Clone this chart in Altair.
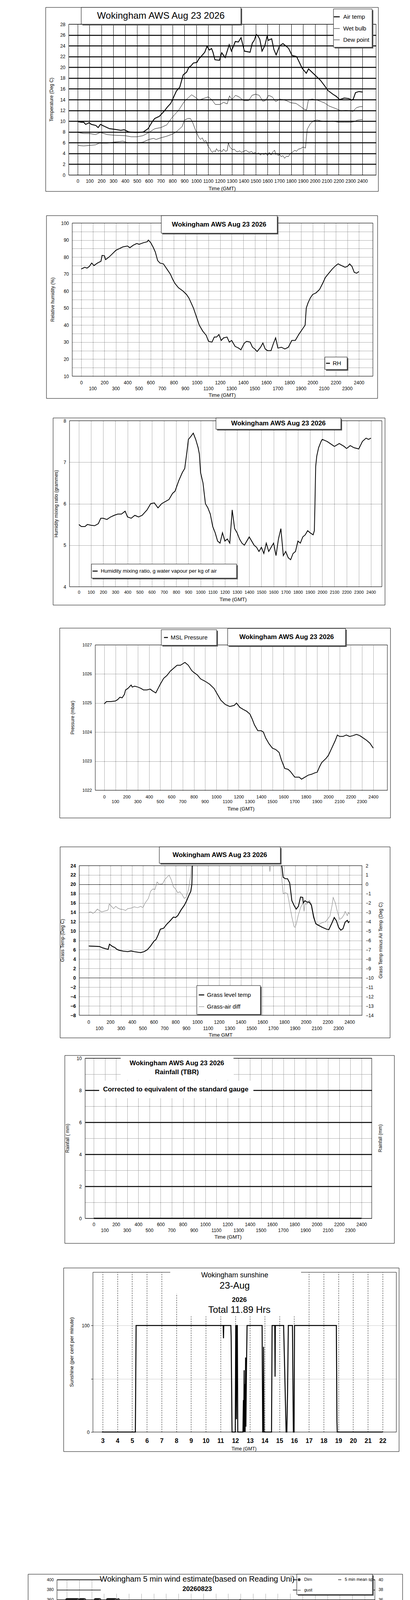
import altair as alt
import pandas as pd

FONT = "Liberation Sans, Arial, Helvetica, sans-serif"
ONE = pd.DataFrame({"d": [0]})
M = 8                 # page margin
TW, TH = 1034, 5069   # drawing area (page minus margins)

# ---------------- tick values ----------------
X_TICKS = list(range(0, 2401, 100))
X_ODD = list(range(100, 2400, 200))
SUN_HOURS = list(range(3, 23))

# ---------------- data (time on HHMM scale, value) ----------------
AIR_TEMP = [(0,9.9),(30,9.8),(50,9.8),(67,9.4),(96,9.7),(115,9.4),(153,9.2),(172,8.8),(191,9.4),(229,9.0),
            (268,8.6),(306,8.5),(363,8.3),(392,8.4),(430,8.0),(478,7.9),(516,7.9),(554,8.0),(593,8.6),(631,10.0),
            (650,10.5),(688,10.9),(727,11.8),(755,12.6),(784,13.3),(803,14.2),(832,15.6),(860,16.3),(889,18.6),(918,19.1),
            (937,20.0),(956,20.3),(975,20.8),(1004,20.9),(1023,21.6),(1052,22.3),(1071,22.8),(1090,23.9),(1110,23.2),(1128,23.5),
            (1140,22.8),(1157,21.4),(1195,21.3),(1214,22.7),(1243,21.8),(1277,24.2),(1296,23.0),(1329,24.8),(1354,24.7),(1377,25.5),
            (1405,23.0),(1453,22.8),(1472,24.5),(1488,25.0),(1505,26.1),(1520,25.8),(1535,25.2),(1554,23.0),(1577,24.0),(1597,25.8),
            (1606,25.0),(1635,25.3),(1654,23.3),(1673,22.3),(1702,24.0),(1730,24.4),(1759,23.9),(1778,23.5),(1807,22.2),(1845,22.0),
            (1893,19.8),(1927,18.9),(1946,19.7),(1989,18.8),(2046,17.6),(2084,16.5),(2109,15.7),(2151,15.0),(2180,14.6),(2208,14.0),
            (2247,14.3),(2285,14.2),(2310,13.9),(2323,14.1),(2342,15.3),(2371,15.5),(2400,15.4)]
WET_BULB = [(0,7.9),(50,7.7),(100,7.7),(150,7.5),(190,7.9),(250,7.5),(300,7.4),(400,7.3),(450,7.1),(500,7.1),
            (550,7.3),(600,7.9),(650,8.6),(700,8.8),(750,9.3),(800,10.8),(850,12.0),(900,13.7),(930,14.3),(960,14.9),
            (1000,14.3),(1020,13.9),(1060,14.2),(1100,14.5),(1130,14.0),(1160,13.1),(1200,13.1),(1230,13.5),(1260,13.2),(1280,14.7),
            (1300,14.0),(1330,14.8),(1360,14.5),(1400,13.8),(1440,13.8),(1470,14.8),(1500,15.0),(1530,14.8),(1560,13.7),(1580,13.8),
            (1610,14.8),(1640,14.5),(1670,13.6),(1700,14.1),(1730,14.0),(1760,13.8),(1800,13.4),(1840,13.3),(1880,12.7),(1910,12.2),
            (1930,12.1),(1945,14.0),(1980,14.1),(2020,13.9),(2080,13.4),(2120,12.8),(2180,12.3),(2220,11.9),(2260,12.0),(2300,11.9),
            (2320,11.8),(2350,12.5),(2380,12.7),(2400,12.7)]
DEW_POINT = [(0,5.5),(50,5.4),(100,5.5),(150,5.6),(180,5.9),(250,5.9),(300,6.1),(350,6.2),(380,6.3),(420,6.0),
             (500,6.0),(550,6.1),(600,6.6),(640,6.8),(660,6.6),(700,6.9),(750,7.2),(800,7.6),(830,8.0),(860,8.6),
             (880,9.0),(900,10.2),(930,10.5),(950,10.5),(970,9.7),(990,8.5),(1020,7.0),(1035,6.6),(1050,6.9),(1065,6.2),
             (1080,6.4),(1100,5.3),(1112,5.0),(1120,4.6),(1135,4.2),(1150,4.5),(1160,4.3),(1170,4.9),(1185,4.4),(1200,4.6),
             (1215,4.3),(1230,4.8),(1245,4.4),(1260,4.5),(1270,6.0),(1280,5.3),(1290,5.0),(1305,4.7),(1320,4.8),(1335,4.4),
             (1350,4.3),(1365,4.5),(1380,4.2),(1400,4.4),(1420,4.6),(1435,4.3),(1450,4.2),(1465,4.4),(1480,4.0),(1495,4.2),
             (1510,3.9),(1525,4.1),(1540,3.7),(1555,4.0),(1570,3.8),(1585,4.1),(1600,3.6),(1615,4.2),(1630,3.7),(1645,4.3),
             (1660,4.6),(1670,3.8),(1680,4.0),(1690,3.6),(1700,3.9),(1715,3.4),(1730,3.6),(1745,3.1),(1760,3.5),(1775,3.4),
             (1790,3.9),(1800,4.1),(1815,4.3),(1830,4.6),(1845,4.4),(1860,4.8),(1880,4.9),(1900,5.2),(1920,5.0),(1935,8.5),
             (1960,9.5),(1990,10.1),(2020,10.2),(2060,10.0),(2100,9.9),(2150,10.0),(2200,9.8),(2250,9.8),(2300,9.8),(2330,9.9),
             (2360,10.2),(2400,10.3)]

REL_HUM = [(0,73.0),(30,74.0),(50,73.5),(70,74.5),(90,76.5),(110,75.0),(140,76.5),(170,77.5),(180,81.0),(200,80.8),
           (210,78.5),(240,80.0),(270,82.0),(300,84.0),(330,85.0),(360,86.0),(400,86.5),(420,85.5),(450,87.0),(480,88.0),
           (500,87.5),(540,88.5),(570,89.0),(580,90.0),(600,88.5),(620,86.0),(640,83.0),(660,78.0),(680,76.5),(710,76.0),
           (740,73.0),(770,70.0),(790,67.0),(810,64.5),(840,62.0),(880,60.0),(910,58.0),(930,56.0),(950,53.0),(970,50.0),
           (1000,44.0),(1020,40.0),(1050,36.5),(1080,34.0),(1100,30.5),(1130,30.0),(1150,33.0),(1170,33.0),(1190,34.5),(1210,31.0),
           (1230,32.5),(1260,33.0),(1280,30.0),(1300,31.0),(1330,27.5),(1360,26.5),(1380,25.5),(1410,29.5),(1430,30.5),(1460,30.0),
           (1480,27.0),(1500,26.0),(1520,24.5),(1550,27.0),(1570,29.5),(1590,26.0),(1610,25.0),(1640,25.0),(1660,29.0),(1680,32.5),
           (1700,26.5),(1730,27.0),(1760,26.0),(1790,27.0),(1820,31.0),(1850,31.0),(1880,34.5),(1910,37.5),(1925,39.0),(1935,40.0),
           (1945,50.0),(1960,53.0),(1980,56.0),(2000,58.0),(2030,59.0),(2060,61.0),(2090,65.0),(2110,68.0),(2140,70.5),(2170,73.0),
           (2200,75.0),(2220,76.0),(2250,75.0),(2280,74.0),(2300,74.5),(2320,76.0),(2340,74.5),(2360,71.0),(2380,70.5),(2400,71.5)]

MIX_RATIO = [(0,5.5),(20,5.45),(50,5.45),(70,5.5),(100,5.48),(130,5.47),(160,5.52),(180,5.65),(200,5.65),(230,5.62),
             (260,5.68),(290,5.72),(320,5.75),(350,5.75),(380,5.82),(400,5.68),(430,5.65),(460,5.72),(490,5.68),(520,5.72),
             (560,5.85),(590,6.0),(620,6.02),(650,5.9),(680,6.0),(710,6.05),(740,6.1),(770,6.25),(790,6.3),(820,6.55),
             (850,6.75),(870,6.85),(890,7.3),(900,7.55),(920,7.62),(940,7.7),(960,7.55),(980,7.35),(990,7.2),(1000,6.75),
             (1020,6.5),(1040,6.0),(1060,5.9),(1080,5.75),(1100,5.45),(1120,5.3),(1140,5.1),(1160,5.05),(1180,5.3),(1200,5.1),
             (1220,5.15),(1240,5.05),(1260,5.85),(1280,5.4),(1300,5.3),(1320,5.15),(1340,5.05),(1360,5.0),(1380,5.1),(1400,5.2),
             (1420,5.1),(1440,5.0),(1460,4.95),(1480,4.85),(1500,4.95),(1520,4.8),(1540,5.05),(1560,4.85),(1580,4.95),(1600,5.05),
             (1620,4.75),(1640,5.15),(1660,5.4),(1680,4.75),(1700,4.85),(1720,4.7),(1740,4.65),(1760,4.8),(1780,4.85),(1800,5.1),
             (1820,5.05),(1840,5.2),(1860,5.25),(1880,5.35),(1900,5.3),(1925,5.25),(1935,5.35),(1940,6.0),(1946,6.9),(1955,7.15),
             (1970,7.35),(1990,7.5),(2000,7.55),(2040,7.5),(2080,7.42),(2100,7.38),(2140,7.45),(2180,7.38),(2200,7.33),(2230,7.4),
             (2260,7.35),(2300,7.32),(2330,7.5),(2360,7.58),(2380,7.55),(2400,7.58)]

PRESSURE = [(0,1024.97),(20,1025.05),(60,1025.05),(100,1025.07),(120,1025.12),(140,1025.2),(160,1025.18),(180,1025.3),(190,1025.45),(210,1025.5),
            (240,1025.62),(250,1025.55),(270,1025.58),(300,1025.55),(330,1025.5),(350,1025.45),(380,1025.45),(410,1025.48),(430,1025.42),(460,1025.35),
            (480,1025.5),(500,1025.65),(530,1025.85),(560,1025.95),(590,1026.1),(620,1026.2),(650,1026.3),(680,1026.3),(720,1026.4),(750,1026.3),
            (780,1026.12),(800,1026.05),(830,1025.97),(860,1025.83),(900,1025.75),(940,1025.65),(980,1025.5),(1010,1025.3),(1040,1025.1),(1080,1024.95),
            (1120,1024.88),(1160,1024.92),(1180,1025.0),(1210,1024.85),(1240,1024.78),(1270,1024.72),(1300,1024.62),(1320,1024.45),(1340,1024.25),(1370,1024.05),
            (1400,1024.05),(1420,1024.0),(1440,1023.8),(1470,1023.6),(1500,1023.45),(1530,1023.4),(1560,1023.3),(1580,1023.05),(1610,1022.75),(1640,1022.72),
            (1660,1022.65),(1680,1022.55),(1700,1022.45),(1740,1022.45),(1760,1022.38),(1790,1022.45),(1820,1022.52),(1850,1022.55),(1880,1022.6),(1900,1022.62),
            (1920,1022.8),(1940,1022.95),(1980,1023.1),(2000,1023.2),(2030,1023.45),(2060,1023.7),(2080,1023.9),(2100,1023.85),(2130,1023.85),(2160,1023.9),
            (2190,1023.85),(2220,1023.88),(2250,1023.92),(2280,1023.88),(2310,1023.8),(2340,1023.72),(2370,1023.62),(2400,1023.45)]

# grass series leave the top of the chart around midday, so they come in separate pieces
GRASS_TEMP_AM = [(0,6.8),(50,6.75),(100,6.7),(130,6.4),(160,6.2),(180,6.1),(192,7.2),(220,6.7),(240,6.5),(260,6.1),
                 (280,5.9),(320,5.7),(360,5.6),(390,5.75),(420,5.6),(460,5.45),(480,5.4),(510,5.6),(540,6.0),(570,6.8),
                 (600,7.8),(620,8.2),(640,9.2),(660,10.4),(690,10.6),(720,11.5),(750,12.2),(780,13.0),(800,12.9),(820,13.3),
                 (850,14.5),(880,15.5),(900,16.4),(920,17.5),(940,18.5),(950,20.0),(955,24.0)]
GRASS_TEMP_PM = [(1776,24.0),(1780,23.5),(1790,21.5),(1810,21.2),(1830,21.2),(1850,20.3),(1870,16.5),(1890,15.5),(1910,14.7),(1930,15.3),
                 (1950,17.3),(1970,17.2),(1975,16.0),(1990,16.5),(2010,16.2),(2030,16.2),(2050,15.5),(2070,13.0),(2090,11.6),(2110,11.3),
                 (2150,10.8),(2190,10.4),(2210,10.3),(2240,11.8),(2260,12.9),(2280,12.2),(2300,10.8),(2320,10.2),(2340,10.5),(2360,11.9),
                 (2380,12.3),(2390,11.8),(2400,12.1)]
GRASS_AIR_AM = [(0,-3.0),(20,-2.95),(40,-3.1),(60,-2.95),(80,-2.65),(100,-2.8),(120,-2.95),(150,-2.85),(170,-2.8),(180,-2.7),
                (190,-2.1),(210,-2.35),(230,-2.6),(250,-2.35),(270,-2.55),(290,-2.65),(320,-2.7),(340,-2.8),(360,-2.6),(390,-2.55),
                (420,-2.4),(450,-2.5),(480,-2.35),(500,-2.5),(520,-2.0),(550,-1.5),(570,-0.75),(590,-0.5),(610,-0.55),(630,0.25),
                (650,0.0),(680,0.05),(700,0.5),(720,0.75),(740,1.0),(760,0.5),(780,-0.25),(800,-0.5),(820,-0.9),(840,-0.8),
                (860,-1.1),(880,-1.5),(900,-1.35),(920,-0.5),(940,1.0),(946,2.0)]
GRASS_AIR_MID = [(1663,2.0),(1668,1.35),(1673,2.0)]
GRASS_AIR_PM = [(1767,2.0),(1770,1.5),(1780,0.25),(1790,-1.0),(1810,-0.9),(1830,-1.0),(1850,-2.25),(1870,-3.5),(1890,-4.5),(1900,-4.6),
                (1910,-4.25),(1930,-3.25),(1950,-2.5),(1960,-2.25),(1975,-2.0),(1982,-2.9),(1990,-2.1),(2010,-2.1),(2030,-1.7),(2050,-2.1),
                (2070,-3.25),(2090,-4.25),(2110,-4.4),(2130,-4.2),(2150,-4.1),(2180,-4.0),(2200,-3.7),(2220,-3.4),(2240,-2.25),(2250,-1.4),
                (2270,-2.0),(2290,-3.0),(2310,-3.75),(2330,-3.6),(2350,-3.25),(2360,-2.9),(2380,-3.35),(2390,-3.0),(2400,-3.2)]

RAINFALL = [(0,0.0),(2400,0.0)]

SUNSHINE = [(2.95,0),(5.22,0),(5.27,100),(11.18,100),(11.2,88),(11.22,100),(11.7,100),(11.72,90),(11.78,0),(12.0,0),
            (12.03,100),(12.06,100),(12.08,12),(12.1,65),(12.12,100),(12.14,100),(12.17,0),(12.52,0),(12.55,30),(12.57,0),
            (12.6,58),(12.62,0),(12.65,45),(12.67,0),(12.7,70),(12.72,5),(12.76,60),(12.8,100),(13.82,100),(13.86,0),
            (13.9,0),(13.92,80),(13.95,0),(14.46,0),(14.5,100),(14.68,100),(14.7,52),(14.72,100),(15.28,100),(15.35,60),
            (15.45,0),(15.5,0),(15.55,40),(15.6,100),(15.88,100),(15.94,0),(15.99,0),(16.02,100),(18.86,100),(18.9,10),
            (18.92,0),(22.0,0)]

WIND_DIR = [(0,360),(5,360),(10,360),(15,360),(20,360),(25,360),(30,360),(35,360),(40,360),(45,360),(50,360),(55,360),
            (60,360),(65,360),(70,360),(75,360),(80,360),(85,360),(90,360),(96,85),(108,360),(113,360),(118,360),(123,360),
            (128,360),(133,360),(138,360),(143,360),(151,63),(160,341),(168,334),(173,336),(177,337),(183,331),(192,318),
            (203,252),(207,253),(218,280),(222,280),(230,360),(235,360),(240,360),(245,360),(250,360),(255,360),(260,360),
            (265,360),(272,280),(276,280),(286,259),(292,244),(298,228),(307,217),(318,272),(323,273),(328,360),(333,360),
            (338,360),(343,360),(348,360),(353,360),(358,360),(363,360),(368,360),(373,360),(378,360),(383,360),(388,360),
            (393,360),(401,265),(408,265),(415,360),(426,251),(435,248),(443,244),(452,241),(458,230),(467,218),(477,238),
            (482,275),(492,299),(501,283),(507,271),(518,256),(524,251),(533,249),(543,248),(552,227),(560,228),(569,231),
            (578,232),(586,233),(595,240),(601,261),(607,277),(616,274),(624,261),(631,255),(639,269),(648,274),(658,275),
            (667,274),(676,270),(684,267),(691,261),(699,318),(708,335),(716,355),(725,4),(733,16),(740,39),(748,214),
            (759,203),(767,183),(778,324),(782,312),(787,311),(793,324),(803,177),(810,171),(821,165),(829,171),(842,226),
            (850,245),(859,251),(867,254),(874,261),(882,252),(891,215),(899,240),(908,251),(916,240),(925,250),(933,287),
            (942,287),(948,259),(957,244),(965,237),(974,247),(982,244),(991,243),(997,237),(1006,261),(1013,291),(1023,269),
            (1031,244),(1040,206),(1049,325),(1057,337),(1066,227),(1074,232),(1081,233),(1091,262),(1100,34),(1106,30),
            (1117,348),(1125,296),(1134,314),(1142,336),(1149,317),(1157,292),(1166,285),(1174,206),(1183,202),(1189,218),
            (1198,215),(1206,230),(1217,282),(1230,336),(1240,8),(1249,346),(1255,329),(1264,334),(1270,342),(1281,9),
            (1289,31),(1298,273),(1306,265),(1315,304),(1332,19),(1341,240),(1347,200),(1356,21),(1364,10),(1373,350),
            (1379,339),(1387,354),(1396,358),(1404,9),(1413,202),(1424,204),(1430,240),(1439,271),(1447,286),(1456,352),
            (1464,38),(1473,43),(1481,45),(1488,49),(1498,62),(1505,66),(1513,90),(1520,83),(1528,24),(1539,16),
            (1547,30),(1556,31),(1564,49),(1573,67),(1579,55),(1588,31),(1596,22),(1607,16),(1613,17),(1622,27),
            (1630,26),(1639,47),(1647,52),(1656,54),(1665,46),(1673,36),(1682,27),(1690,25),(1699,23),(1703,57),
            (1711,87),(1718,99),(1726,104),(1735,106),(1743,104),(1752,86),(1760,71),(1767,89),(1775,88),(1784,85),
            (1792,86),(1801,85),(1809,86),(1818,88),(1826,91),(1835,87),(1844,91),(1854,93),(1863,89),(1870,88),
            (1878,71),(1886,70),(1895,67),(1905,62),(1914,60),(1925,52),(1935,53),(1946,56),(1957,166),(1967,181),
            (1974,178),(1982,181),(1991,187),(1999,189),(2010,185),(2020,183),(2029,185),(2040,192),(2048,194),(2055,185),
            (2063,174),(2072,169),(2080,168),(2084,144),(2097,122),(2106,115),(2116,115),(2127,113),(2135,112),(2144,108),
            (2153,98),(2161,96),(2170,98),(2178,103),(2189,113),(2195,114),(2204,102),(2212,92),(2221,87),(2229,86),
            (2238,84),(2246,84),(2255,86),(2263,91),(2272,93),(2280,94),(2289,93),(2297,93),(2304,86),(2312,79),
            (2321,85),(2330,95),(2338,98),(2344,103),(2353,108),(2361,106),(2370,102),(2378,100),(2387,98),(2396,97)]

GUST = [(0,0.2),(60,0.2),(70,1.2),(80,0.3),(90,1.0),(100,0.4),(120,0.2),(140,0.3),(150,3.0),(160,5.5),
        (175,6.0),(182,1.8),(190,1.2),(197,2.4),(205,1.2),(215,0.3),(260,0.2),(265,1.9),(272,0.5),(280,2.0),
        (288,0.8),(296,1.8),(305,2.6),(312,0.6),(320,0.2),(400,0.2),(405,1.0),(412,2.3),(420,1.5),(428,2.2),
        (436,1.7),(444,2.0),(452,1.2),(460,2.1),(468,1.8),(476,1.0),(484,2.3),(492,1.4),(500,2.1),(508,1.2),
        (516,2.0),(524,1.5),(535,2.6),(545,2.0),(555,2.3),(565,1.6),(575,2.5),(585,3.0),(600,2.0),(612,2.5),
        (625,3.2),(640,3.8),(655,4.6),(668,4.9),(678,4.2),(688,3.6),(700,2.4),(708,0.8),(718,1.5),(726,2.3),
        (734,1.2),(742,2.0),(750,1.6),(760,2.8),(770,1.8),(780,3.1),(790,2.2),(800,2.8),(812,4.2),(822,5.2),
        (832,6.0),(842,5.4),(852,6.6),(862,6.0),(872,6.8),(882,5.8),(892,7.2),(902,6.2),(912,7.4),(922,7.0),
        (932,6.4),(942,7.3),(952,6.8),(962,7.6),(972,6.0),(982,7.0),(992,7.2),(1002,6.6),(1012,7.4),(1022,6.9),
        (1032,6.2),(1042,7.0),(1052,5.2),(1062,8.2),(1072,5.8),(1082,8.5),(1092,6.0),(1102,8.0),(1112,5.6),(1122,8.0),
        (1132,6.4),(1142,10.5),(1150,5.8),(1160,3.4),(1170,5.0),(1180,6.2),(1190,5.4),(1200,8.0),(1210,6.2),(1220,9.0),
        (1230,7.6),(1240,12.7),(1248,8.2),(1256,5.0),(1264,8.6),(1272,7.0),(1280,9.2),(1290,11.5),(1298,7.2),(1306,9.8),
        (1314,8.0),(1322,10.2),(1330,8.8),(1340,9.6),(1350,7.2),(1360,8.6),(1370,6.0),(1380,8.2),(1390,7.0),(1400,9.6),
        (1410,6.4),(1420,8.8),(1430,6.0),(1440,7.0),(1450,8.4),(1460,12.0),(1470,8.0),(1480,5.6),(1490,7.6),(1500,5.8),
        (1510,4.6),(1520,5.0),(1530,8.2),(1540,10.2),(1550,8.0),(1560,5.4),(1570,9.0),(1580,11.2),(1590,11.8),(1600,10.0),
        (1610,8.2),(1620,6.0),(1630,9.2),(1640,5.4),(1650,8.2),(1660,10.2),(1670,6.6),(1680,4.8),(1690,7.2),(1700,4.4),
        (1710,6.2),(1720,8.4),(1730,10.6),(1740,6.0),(1750,4.0),(1760,5.6),(1770,6.6),(1780,3.6),(1790,6.0),(1800,4.4),
        (1810,6.2),(1820,3.4),(1830,4.2),(1840,5.6),(1850,6.0),(1860,3.4),(1870,2.0),(1880,3.6),(1890,5.4),(1900,4.0),
        (1910,3.6),(1920,6.4),(1930,7.6),(1940,9.0),(1950,6.6),(1960,8.8),(1970,7.4),(1980,9.8),(1990,7.2),(2000,10.0),
        (2010,8.6),(2020,8.0),(2030,8.6),(2040,7.0),(2050,6.2),(2060,5.0),(2070,2.6),(2078,4.2),(2086,1.8),(2094,2.6),
        (2102,1.4),(2110,0.6),(2118,1.2),(2126,1.8),(2134,2.6),(2142,1.6),(2150,2.2),(2158,1.2),(2166,0.8),(2174,1.6),
        (2182,2.4),(2190,1.0),(2198,1.8),(2206,3.0),(2214,2.2),(2222,3.4),(2230,2.6),(2240,3.6),(2250,4.2),(2260,4.6),
        (2270,5.8),(2280,6.6),(2290,7.4),(2300,8.0),(2310,8.6),(2320,9.4),(2330,9.8),(2340,10.0),(2350,9.0),(2360,7.4),
        (2370,6.6),(2380,6.8),(2390,6.9)]

MEAN_SPEED = [(0,0.1),(140,0.1),(150,1.5),(160,2.9),(172,3.0),(180,2.0),(188,1.2),(196,2.0),(204,1.2),(212,0.8),
              (222,0.2),(290,0.2),(300,0.8),(310,0.3),(400,0.2),(410,0.8),(418,1.3),(426,1.0),(434,1.4),(442,0.9),
              (450,1.5),(458,1.0),(466,1.6),(474,0.9),(482,1.5),(490,1.2),(500,1.8),(510,0.8),(520,1.5),(530,1.0),
              (540,1.6),(550,1.2),(560,1.9),(570,1.6),(580,2.1),(590,1.7),(600,1.8),(610,1.5),(620,2.0),(630,2.6),
              (642,3.0),(655,3.2),(665,3.6),(675,3.4),(685,3.2),(695,2.2),(705,0.8),(715,0.4),(725,0.3),(735,0.6),
              (745,1.0),(755,1.3),(765,1.0),(775,1.4),(785,1.2),(795,1.6),(805,2.2),(815,2.8),(825,3.6),(835,3.8),
              (845,3.4),(855,3.8),(865,4.0),(875,3.7),(885,4.2),(895,3.9),(905,4.4),(915,4.0),(925,4.6),(935,4.2),
              (945,4.4),(955,4.2),(965,4.6),(975,4.2),(985,4.4),(995,4.0),(1005,4.5),(1015,3.4),(1025,2.8),(1035,3.6),
              (1045,3.0),(1055,4.0),(1065,3.4),(1075,4.2),(1085,5.0),(1095,4.4),(1105,3.6),(1115,5.2),(1125,4.4),(1135,5.0),
              (1145,3.6),(1155,3.2),(1165,2.2),(1175,3.0),(1185,3.6),(1195,3.0),(1205,5.0),(1215,4.4),(1225,5.8),(1235,6.8),
              (1245,5.6),(1255,4.4),(1265,3.0),(1275,4.0),(1285,6.2),(1295,6.4),(1305,5.0),(1315,3.6),(1325,5.2),(1335,4.4),
              (1345,3.8),(1355,4.6),(1365,3.4),(1375,5.0),(1385,3.6),(1395,4.8),(1405,4.0),(1415,3.4),(1425,3.0),(1435,4.0),
              (1445,5.6),(1455,6.4),(1465,5.0),(1475,4.4),(1485,6.0),(1495,3.4),(1505,2.0),(1515,3.6),(1525,5.2),(1535,4.6),
              (1545,3.0),(1555,2.4),(1565,5.0),(1575,6.2),(1585,4.4),(1595,3.4),(1605,5.0),(1615,3.6),(1625,4.0),(1635,5.6),
              (1645,7.0),(1655,4.6),(1665,3.0),(1675,4.6),(1685,3.0),(1695,4.0),(1705,5.2),(1715,3.6),(1725,2.4),(1735,3.6),
              (1745,4.2),(1755,3.0),(1765,2.4),(1775,3.2),(1785,2.0),(1795,2.6),(1805,4.0),(1815,4.6),(1825,3.4),(1835,2.4),
              (1845,2.0),(1855,2.6),(1865,3.6),(1875,2.0),(1885,1.6),(1895,2.0),(1905,1.6),(1915,2.6),(1925,3.6),(1935,4.6),
              (1945,4.0),(1955,4.8),(1965,4.8),(1975,5.0),(1985,4.9),(1995,5.0),(2005,5.0),(2015,5.2),(2025,4.6),(2035,5.2),
              (2045,4.6),(2055,3.6),(2065,2.0),(2075,1.6),(2085,2.4),(2095,1.4),(2105,0.5),(2115,1.0),(2125,1.6),(2135,2.0),
              (2145,1.4),(2155,0.8),(2165,1.0),(2175,1.8),(2185,1.0),(2195,1.2),(2205,1.0),(2215,2.0),(2225,2.2),(2235,2.4),
              (2245,2.5),(2255,2.4),(2265,2.6),(2275,3.0),(2285,3.2),(2295,4.0),(2305,5.0),(2315,5.5),(2325,5.3),(2335,5.0),
              (2345,4.8),(2355,4.6),(2365,4.4)]

TITLE = "Wokingham AWS Aug 23 2026"
DOT = [1, 2]
EVEN_ONLY = "datum.value % 200 == 0 ? datum.label : ''"

LAYERS = []


# ---------------- primitive helpers (chart pixel coordinates) ----------------
def _rect(x1, y1, x2, y2, fill=None, stroke="black", sw=1):
    kw = {}
    if fill is None:
        kw["fill"] = "white"
        kw["fillOpacity"] = 0
    else:
        kw["fill"] = fill
    if stroke:
        kw["stroke"] = stroke
        kw["strokeWidth"] = sw
    return alt.Chart(ONE).mark_rect(**kw).encode(
        x=alt.value(x1), x2=alt.value(x2), y=alt.value(y1), y2=alt.value(y2))


class Panel:
    """A plot area placed on the page; decorations use coordinates relative to its top-left."""

    def __init__(self, left, top, right, bottom):
        self.ox, self.oy = left - M, top - M
        self.W, self.H = right - left, bottom - top

    def xs(self, lo, hi):
        return alt.Scale(domain=[lo, hi], range=[self.ox, self.ox + self.W], nice=False, zero=False)

    def ys(self, lo, hi):
        return alt.Scale(domain=[lo, hi], range=[self.oy + self.H, self.oy], nice=False, zero=False)

    def boff(self):
        return -(TH - (self.oy + self.H))

    def loff(self):
        return -self.ox

    def roff(self):
        return -(TW - (self.ox + self.W))

    def rect(self, x1, y1, x2, y2, fill=None, stroke="black", sw=1):
        LAYERS.append(_rect(self.ox + x1, self.oy + y1, self.ox + x2, self.oy + y2, fill, stroke, sw))

    def sbox(self, x1, y1, x2, y2):
        self.rect(x1 + 3, y1 + 3, x2 + 3, y2 + 3, fill="#555555", stroke=None)
        self.rect(x1, y1, x2, y2, fill="white")

    def seg(self, x1, x2, y, color="black", width=1):
        LAYERS.append(alt.Chart(ONE).mark_rule(color=color, strokeWidth=width).encode(
            x=alt.value(self.ox + x1), x2=alt.value(self.ox + x2), y=alt.value(self.oy + y)))

    def text(self, x, y, s, size=12, weight="normal", align="center", angle=0):
        LAYERS.append(alt.Chart(ONE).mark_text(text=s, fontSize=size, fontWeight=weight, align=align,
                                               baseline="middle", angle=angle, color="black", font=FONT).encode(
            x=alt.value(self.ox + x), y=alt.value(self.oy + y)))

    def dot(self, x, y):
        LAYERS.append(alt.Chart(ONE).mark_circle(size=42, color="#444444", stroke="black", strokeWidth=0.8,
                                                 opacity=1).encode(x=alt.value(self.ox + x), y=alt.value(self.oy + y)))

    def line(self, pairs, xs, ys, xa=None, ya=None, color="black", width=1.0):
        df = pd.DataFrame(pairs, columns=["t", "v"])
        LAYERS.append(alt.Chart(df).mark_line(color=color, strokeWidth=width).encode(
            x=alt.X("t:Q", scale=xs, axis=xa, title=None),
            y=alt.Y("v:Q", scale=ys, axis=ya, title=None)))

    def xlabels(self, xs, values, size, pad, expr=None, bold=False, odd_y=None, fmt="d"):
        kw = dict(orient="bottom", offset=self.boff(), values=values, grid=False, labelFontSize=size,
                  labelPadding=pad, title=None, format=fmt, labelFontWeight="bold" if bold else "normal")
        if expr:
            kw["labelExpr"] = expr
        ax = alt.Axis(**kw)
        if odd_y is not None:
            df = pd.DataFrame({"t": X_ODD, "lab": [str(v) for v in X_ODD]})
            LAYERS.append(alt.Chart(df).mark_text(fontSize=size, font=FONT, baseline="middle", color="black").encode(
                x=alt.X("t:Q", scale=xs, axis=ax, title=None), y=alt.value(self.oy + odd_y), text="lab:N"))
        else:
            df = pd.DataFrame({"t": values})
            LAYERS.append(alt.Chart(df).mark_point(opacity=0, size=1).encode(
                x=alt.X("t:Q", scale=xs, axis=ax, title=None), y=alt.value(self.oy)))


def grid_x(values, dash=None, width=1, color="black"):
    kw = dict(orient="top", values=values, grid=True, labels=False, ticks=False, domain=False, title=None,
              gridColor=color, gridWidth=width)
    if dash:
        kw["gridDash"] = dash
    return alt.Axis(**kw)


def yaxis(p, values, size=12, pad=9, grid=True, orient="left", **kw):
    off = p.loff() if orient == "left" else p.roff()
    args = dict(orient=orient, offset=off, values=values, grid=grid, labelFontSize=size, labelPadding=pad,
                title=None, gridColor="black")
    args.update(kw)
    return alt.Axis(**args)


# ---------------- panel 1: temperatures ----------------
p = Panel(176, 62, 963, 448)
xs, ys = p.xs(-76, 2515), p.ys(0, 28)
ya = yaxis(p, list(range(0, 29, 2)),
           gridWidth={"condition": {"test": "datum.value > 0 && datum.value < 28", "value": 2.5}, "value": 1})
p.rect(-59, -43, 793, 428)
p.rect(0, 0, p.W, p.H)
p.line(DEW_POINT, xs, ys)
p.line(WET_BULB, xs, ys)
p.line(AIR_TEMP, xs, ys, grid_x(X_TICKS), ya, width=2.2)
p.xlabels(xs, X_TICKS, 12, 10)
p.sbox(32, -43, 441, 0)
p.text(236, -21, TITLE, 24)
p.sbox(678, -39, 777, 59)
p.seg(679, 694, -19, width=2.5)
p.seg(679, 694, 11)
p.seg(679, 694, 40)
p.text(703, -19, "Air temp", 15, align="left")
p.text(703, 11, "Wet bulb", 15, align="left")
p.text(703, 40, "Dew point", 15, align="left")
p.text(-44, p.H / 2, "Temperature (Deg C)", 12, angle=270)
p.text(393, 421, "Time (GMT)", 13)

# ---------------- panel 2: relative humidity ----------------
p = Panel(185, 571, 955, 963)
xs, ys = p.xs(-78, 2521), p.ys(10, 100)
ya = yaxis(p, list(range(10, 101, 5)), gridDash=DOT, labelExpr="datum.value % 10 == 0 ? datum.label : ''")
p.rect(-66, -19, 782, 449)
p.rect(0, 0, p.W, p.H)
p.line(REL_HUM, xs, ys, grid_x(X_TICKS, DOT), ya, width=2)
p.xlabels(xs, X_TICKS, 12, 11, EVEN_ONLY, odd_y=p.H + 32)
p.sbox(228, -19, 525, 26)
p.text(376, 4, TITLE, 17, "bold")
p.sbox(647, 343, 704, 375)
p.seg(650, 660, 359, width=2.5)
p.text(667, 359, "RH", 15, align="left")
p.text(-50, p.H / 2, "Relative humidity (%)", 12, angle=270)
p.text(384, 441, "Time (GMT)", 13)

# ---------------- panel 3: mixing ratio ----------------
p = Panel(178, 1077, 978, 1502)
xs, ys = p.xs(-77, 2490), p.ys(4, 8)
ya = yaxis(p, [4, 5, 6, 7, 8], gridDash=DOT)
p.rect(-42, -7, 808, 472)
p.rect(0, 0, p.W, p.H)
p.line(MIX_RATIO, xs, ys, grid_x(X_TICKS, DOT), ya, width=2)
p.xlabels(xs, X_TICKS, 11, 8)
p.sbox(375, -7, 695, 22)
p.text(535, 7, TITLE, 17, "bold")
p.sbox(56, 367, 428, 403)
p.seg(59, 72, 385, width=2.5)
p.text(80, 385, "Humidity mixing ratio, g water vapour per kg of air", 13.5, align="left")
p.text(-34, p.H / 2, "Humidity mixing ratio (grammes)", 12, angle=270)
p.text(419, 458, "Time (GMT)", 13)

# ---------------- panel 4: pressure ----------------
p = Panel(244, 1651, 992, 2023)
xs, ys = p.xs(-80, 2526), p.ys(1022, 1027)
ya = yaxis(p, [1022, 1023, 1024, 1025, 1026, 1027], size=11, gridDash=DOT, format="d")
p.rect(-91, -43, 756, 443)
p.rect(0, 0, p.W, p.H)
p.line(PRESSURE, xs, ys, grid_x(X_TICKS, DOT), ya, width=2)
p.xlabels(xs, X_TICKS, 11.5, 11, EVEN_ONLY, odd_y=p.H + 30)
p.sbox(169, -39, 311, 1)
p.seg(176, 186, -19, width=2.5)
p.text(193, -19, "MSL Pressure", 15, align="left")
p.sbox(339, -42, 641, 2)
p.text(490, -20, TITLE, 17, "bold")
p.text(-58, p.H / 2, "Pressure (mbar)", 12, angle=270)
p.text(373, p.H + 48, "Time (GMT)", 13)

# ---------------- panel 5: grass temperature ----------------
p = Panel(203, 2216, 927, 2599)
xs, yl, yr = p.xs(-86, 2515), p.ys(-8, 24), p.ys(-14, 2)
ya_l = yaxis(p, list(range(-8, 25, 2)), size=12.5, labelFontWeight="bold",
             gridDash={"condition": {"test": "datum.value == 0 || datum.value == 20", "value": []}, "value": DOT})
ya_r = yaxis(p, list(range(-14, 3, 1)), grid=False, orient="right")
p.rect(-49, -48, 796, 441)
p.rect(0, 0, p.W, p.H)
p.line(GRASS_AIR_AM, xs, yr, None, ya_r, color="#8c8c8c", width=1.2)
p.line(GRASS_AIR_MID, xs, yr, color="#8c8c8c", width=1.2)
p.line(GRASS_AIR_PM, xs, yr, color="#8c8c8c", width=1.2)
p.line(GRASS_TEMP_AM, xs, yl, grid_x(X_TICKS, DOT), ya_l, width=2.2)
p.line(GRASS_TEMP_PM, xs, yl, width=2.2)
p.xlabels(xs, X_TICKS, 12, 12, EVEN_ONLY, odd_y=p.H + 34)
p.sbox(205, -48, 515, -6)
p.text(360, -27, TITLE, 17, "bold")
p.sbox(301, 307, 464, 381)
p.seg(306, 320, 331, width=2.5)
p.text(327, 331, "Grass level temp", 15, align="left")
p.seg(306, 320, 361, color="#8c8c8c", width=1.2)
p.text(327, 361, "Grass-air diff", 15, align="left")
p.text(-43, p.H / 2, "Grass Temp (Deg C)", 12, angle=270)
p.text(772, p.H / 2, "Grass Temp minus Air Temp (Deg C)", 12, angle=270)
p.text(362, p.H + 51, "Time GMT", 13)

# ---------------- panel 6: rainfall ----------------
p = Panel(218, 2709, 952, 3119)
xs, ys = p.xs(-77, 2492), p.ys(0, 10)
ya = yaxis(p, list(range(0, 11)),
           gridDash={"condition": {"test": "datum.value % 2 == 0", "value": []}, "value": DOT},
           gridWidth={"condition": {"test": "datum.value % 2 == 0 && datum.value > 0 && datum.value < 10", "value": 2.5}, "value": 1},
           labelExpr="datum.value % 2 == 0 ? datum.label : ''")
p.rect(-52, -7, 792, 474)
p.rect(0, 0, p.W, p.H)
p.line(RAINFALL, xs, ys, grid_x(X_TICKS, DOT), ya, width=3)
p.xlabels(xs, X_TICKS, 12, 10, EVEN_ONLY, odd_y=p.H + 31)
p.rect(91, -1, 380, 56, fill="white", stroke=None)
p.rect(36, 58, 431, 103, fill="white", stroke=None)
p.text(235, 13, TITLE, 17, "bold")
p.text(235, 36, "Rainfall (TBR)", 17, "bold")
p.text(232, 80, "Corrected to equivalent of the standard gauge", 17, "bold")
p.text(-45, p.H / 2, "Rainfall ( mm)", 12, angle=270)
p.text(756, p.H / 2, "Rainfall (mm)", 12, angle=270)
p.text(366, p.H + 48, "Time (GMT)", 13)

# ---------------- panel 7: sunshine ----------------
p = Panel(238, 3257, 1015, 3666)
xs, ys = p.xs(2.34, 22.93), p.ys(0, 150)
ya = yaxis(p, [0, 50, 100], pad=4, gridColor="#999999", gridDash=[1, 1],
           labelExpr="datum.value == 50 ? '' : datum.label", ticks=True, tickSize=5, tickColor="black")
p.rect(-75, -11, 784, 459)
p.rect(0, 0, p.W, p.H)
p.line(SUNSHINE, xs, ys, grid_x(SUN_HOURS, [3, 3]), ya, width=2.5)
p.xlabels(xs, SUN_HOURS, 16, 14, bold=True)
p.rect(198, -1, 533, 55, fill="white", stroke=None)
p.rect(217, 55, 519, 113, fill="white", stroke=None)
p.text(363, 8, "Wokingham sunshine", 18)
p.text(363, 35, "23-Aug", 24)
p.text(375, 71, "2026", 17, "bold")
p.text(375, 97, "Total 11.89 Hrs", 24)
p.text(-54, p.H / 2, "Sunshine (per cent per minute)", 13, angle=270)
p.text(387, p.H + 43, "Time (GMT)", 12)

# ---------------- panel 8: wind ----------------
p = Panel(146, 4044, 960, 4554)
xs, yl, yr = p.xs(-79, 2482), p.ys(0, 400), p.ys(0, 40)
ya_l = yaxis(p, list(range(0, 401, 20)), size=10.5, gridWidth=1.6)
ya_r = yaxis(p, list(range(0, 41, 2)), size=10.5, grid=False, orient="right")
p.rect(-74, -14, 885, 572)
p.rect(0, 0, p.W, p.H)
p.line(GUST, xs, yr, None, ya_r, width=1)
p.line(MEAN_SPEED, xs, yr, color="#7a7a7a", width=2)
dir_df = pd.DataFrame(WIND_DIR, columns=["t", "v"])
LAYERS.append(alt.Chart(dir_df).mark_circle(size=42, color="#444444", stroke="black", strokeWidth=0.8,
                                            opacity=1).encode(
    x=alt.X("t:Q", scale=xs, axis=grid_x(X_TICKS, DOT), title=None),
    y=alt.Y("v:Q", scale=yl, axis=ya_l, title=None)))
p.xlabels(xs, X_TICKS, 10.5, 10)
p.rect(112, -12, 604, 36, fill="white", stroke=None)
p.text(359, -1, "Wokingham 5 min wind estimate(based on Reading Uni)", 20)
p.text(359, 24, "20260823", 17, "bold")
p.sbox(614, -14, 808, 38)
p.dot(620, 0)
p.text(633, 0, "Dirn", 11, align="left")
p.seg(720, 728, 0, color="#7a7a7a", width=2.5)
p.text(737, 0, "5 min mean sp", 11, align="left")
p.seg(616, 624, 27)
p.text(633, 27, "gust", 11, align="left")
p.text(-55, p.H / 2, "Degrees", 16, angle=270)
p.text(860, p.H / 2, "knots", 16, angle=270)
p.text(406, 548, "Time, hours GMT", 16)

# ---------------- assemble ----------------
chart = alt.layer(*LAYERS).resolve_scale(x="independent", y="independent").properties(
    width=TW, height=TH, padding=0, background="white",
    autosize=alt.AutoSizeParams(type="none"),
).configure_view(stroke=None).configure_axis(
    domain=False, ticks=False, labelFont=FONT, labelColor="black", labelOverlap=False,
    labelFlush=False, gridOpacity=1,
)

chart.save("out.html", embed_options={"renderer": "svg", "actions": False})
